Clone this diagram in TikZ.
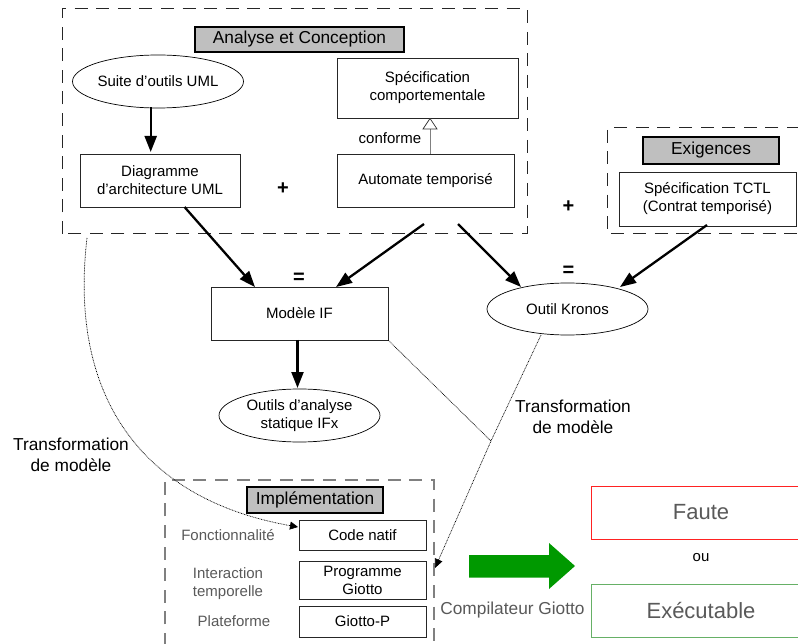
\documentclass[tikz,border=0pt]{standalone}
\usepackage{fontspec}
\setmainfont{Liberation Sans}
\usetikzlibrary{arrows.meta,shapes.geometric,positioning}
\definecolor{gtxt}{HTML}{595959}
\definecolor{gfill}{HTML}{BFBFBF}
\definecolor{gdash}{HTML}{808080}
\definecolor{garr}{HTML}{009900}
\definecolor{rbox}{HTML}{FF2222}
\definecolor{gbox}{HTML}{66B066}
\tikzset{
 fsmall/.style={font=\fontsize{15}{18}\selectfont},
 fmid/.style={font=\fontsize{17.3}{21}\selectfont},
 fbig/.style={font=\fontsize{22}{26}\selectfont},
 frameb/.style={draw=black!85,dash pattern=on 13pt off 8.6pt,line width=1pt},
 frameg/.style={draw=gdash,dash pattern=on 13pt off 8.6pt,line width=1.2pt},
 titleb/.style={draw=black,fill=gfill,line width=2pt,inner sep=0pt,fmid,align=center},
 boxn/.style={draw=black!85,line width=0.8pt,inner sep=0pt,fsmall,align=center},
 ell/.style={draw=black,ellipse,line width=0.7pt,inner sep=0pt,fsmall,align=center},
 thick arrow/.style={line width=2.3pt,-{Triangle[length=16pt,width=12pt]}},
 dotarrow/.style={dash pattern=on 0.8pt off 0.8pt,line width=0.7pt},
 lab/.style={inner sep=0pt,align=center},
 symb/.style={lab,font=\fontsize{20}{20}\selectfont\bfseries},
}
\begin{document}
\begin{tikzpicture}[x=1pt,y=-1pt]
\useasboundingbox (0,0) rectangle (798,644);
\clip (0,0) rectangle (798,644);
% frames
\draw[frameb] (62,234) -- (62,9) -- (527,9) -- (527,234) -- cycle;
\draw[frameb] (800,128) -- (607.5,128) -- (607.5,234) -- (800,234);
\draw[frameg] (165,646) -- (165,480) -- (434,480) -- (434,646);
% titles
\node[titleb,minimum width=209pt,minimum height=25pt] (t1) at (299.5,39.5) {Analyse et Conception};
\node[titleb,minimum width=136pt,minimum height=27pt] (t2) at (711,150.5) {Exigences};
\node[titleb,minimum width=136pt,minimum height=26pt] (t3) at (315,500) {Implémentation};
% upper nodes
\node[ell,minimum width=160pt,minimum height=53pt] (suite) at (158,81.5) {Suite d’outils UML};
\node[boxn,minimum width=160pt,minimum height=53pt] (diag) at (160,180.5) {Diagramme\\d’architecture UML};
\node[boxn,minimum width=181pt,minimum height=60pt] (spec) at (427.5,88) {Spécification\\comportementale};
\node[boxn,minimum width=177pt,minimum height=53pt] (auto) at (425.5,180.5) {Automate temporisé};
\node[boxn,minimum width=177pt,minimum height=54pt] (tctl) at (707.5,199) {\raisebox{-1.5pt}{Spécification TCTL}\\\raisebox{-1.5pt}{(Contrat temporisé)}};
\node[boxn,minimum width=177pt,minimum height=53pt] (mod) at (299.5,313.5) {Modèle IF};
\node[ell,minimum width=161pt,minimum height=52pt] (kron) at (567.5,309) {Outil Kronos};
\node[ell,minimum width=161pt,minimum height=53pt] (stat) at (299.5,415.5) {\raisebox{-2pt}{Outils d’analyse}\\\raisebox{-2pt}{statique IFx}};
% implementation
\node[boxn,minimum width=127pt,minimum height=30pt] (code) at (362.5,535) {Code natif};
\node[boxn,minimum width=127pt,minimum height=38pt] (prog) at (362.5,580) {Programme\\Giotto};
\node[boxn,minimum width=127pt,minimum height=31pt] (gp) at (362.5,621.5) {Giotto-P};
\node[lab,fsmall,text=gtxt] (l1) at (228,535) {Fonctionnalité};
\node[lab,fsmall,text=gtxt] (l2) at (228,583.5) {Interaction\\temporelle};
\node[lab,fsmall,text=gtxt] (l3) at (234,621) {Plateforme};
% results
\node[draw=rbox,line width=1pt,fbig,text=gtxt,minimum width=212pt,minimum height=53pt,inner sep=0pt] (faute) at (697,512.5) {\hspace*{8pt}Faute};
\node[draw=gbox,line width=1pt,fbig,text=gtxt,minimum width=212pt,minimum height=53pt,inner sep=0pt] (exec) at (697,610.5) {\hspace*{8pt}Exécutable};
\node[lab,fsmall] (ou) at (701,558) {ou};
\node[lab,fmid,text=gtxt] (comp) at (512.5,610) {Compilateur Giotto};
% green arrow
\fill[garr] (469,555) -- (549,555) -- (549,543) -- (575,566) -- (549,589) -- (549,577.5) -- (469,577.5) -- cycle;
% symbols
\node[symb] (p1) at (283,189) {+};
\node[symb] (p2) at (568.5,207) {+};
\node[symb] (e1) at (299,278) {=};
\node[symb] (e2) at (568.5,271) {=};
\node[lab,fsmall] (conf) at (390,138) {conforme};
\node[lab,fmid] (tr1) at (71,454.5) {Transformation\\de modèle};
\node[lab,fmid] (tr2) at (573,417) {Transformation\\de modèle};
% connectors
\coordinate (a0s) at (150.7,107.5);
\coordinate (a0e) at (150.7,152);
\coordinate (a1s) at (184.5,207);
\coordinate (a1e) at (255,287);
\coordinate (a2s) at (424,224);
\coordinate (a2e) at (336,287);
\coordinate (a3s) at (458,224);
\coordinate (a3e) at (521,287);
\coordinate (a4s) at (707,225);
\coordinate (a4e) at (620,287);
\coordinate (a5s) at (297.5,340);
\coordinate (a5e) at (297.5,388);
\draw[thick arrow] (a0s) -- (a0e);
\draw[thick arrow] (a1s) -- (a1e);
\draw[thick arrow] (a2s) -- (a2e);
\draw[thick arrow] (a3s) -- (a3e);
\draw[thick arrow] (a4s) -- (a4e);
\draw[thick arrow] (a5s) -- (a5e);
\coordinate (cs) at (430,154);
\coordinate (ct) at (430,129);
\coordinate (ce) at (430,118.5);
\draw[draw=gdash,line width=1pt] (cs) -- (ct);
\draw[draw=black!80,fill=white,line width=0.7pt] (ce) -- (423,129) -- (437,129) -- cycle;
% dotted
\coordinate (jn) at (491,441);
\coordinate (ks) at (541,335);
\coordinate (ge) at (435,568);
\coordinate (ls) at (87,238);
\coordinate (cn) at (298,527);
\draw[dotarrow] (mod.south east) -- (jn);
\draw[dotarrow,-{Triangle[length=9pt,width=8pt]}] (ks) -- (jn) -- (ge);
\draw[dotarrow,-{Triangle[length=8pt,width=8pt]}] (ls) .. controls (68,400) and (145,500) .. (cn);
\end{tikzpicture}
\end{document}
